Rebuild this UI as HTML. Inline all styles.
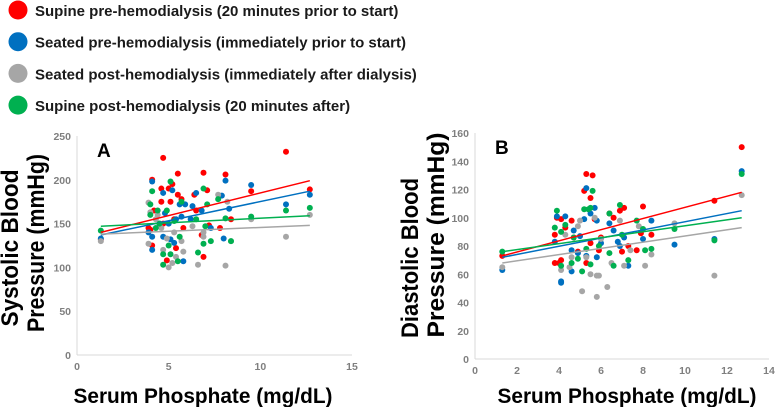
<!DOCTYPE html>
<html><head><meta charset="utf-8"><style>
html,body{margin:0;padding:0;background:#fff;width:777px;height:407px;overflow:hidden}
svg{display:block;font-family:"Liberation Sans",Arial,sans-serif}
</style></head><body>
<svg id="s" width="777" height="407"></svg>
<script>
const seriesNames=["Supine pre-hemodialysis (20 minutes prior to start)","Seated pre-hemodialysis (immediately prior to start)","Seated post-hemodialysis (immediately after dialysis)","Supine post-hemodialysis (20 minutes after)"];
const seriesKeys=["supine-pre","seated-pre","seated-post","supine-post"];
const colors=["#ff0000","#0070c0","#a6a6a6","#00b050"];
const aTicksX=[0,5,10,15];
const aTicksY=[0,50,100,150,200,250];
const bTicksX=[0,2,4,6,8,10,12,14];
const bTicksY=[0,20,40,60,80,100,120,140,160];
const aRed=[[4.7,225],[11.4,232],[4.1,200],[5.5,207],[6.9,208],[8.1,206],[9.5,187],[12.7,189],[5.2,195],[5.0,190],[7.1,188],[4.6,190],[5.5,183],[5.7,178],[6.4,183],[5.1,175],[4.6,175],[4.2,165],[3.9,145],[4.0,143],[4.1,125],[4.9,108],[6.9,112],[5.4,122],[5.8,145],[6.8,137],[7.2,148],[7.8,145],[8.4,155],[4.7,150],[1.3,132],[6.5,165],[5.3,155]];
const aBlue=[[1.3,133],[4.1,198],[8.1,199],[9.5,194],[4.7,185],[5.2,188],[6.5,185],[7.9,182],[11.4,172],[12.7,183],[5.6,172],[5.9,172],[6.3,170],[8.3,167],[4.8,162],[5.4,155],[3.9,140],[4.1,135],[4.1,120],[4.7,135],[5.1,132],[5.3,128],[5.8,107],[6.8,165],[7.3,145],[8.0,133],[4.5,150],[5.0,150],[5.7,158],[6.2,155]];
const aGray=[[1.3,130],[3.9,174],[4.0,163],[3.9,127],[4.3,155],[4.6,145],[4.7,120],[4.9,133],[5.0,100],[5.2,105],[5.4,112],[5.8,118],[6.6,103],[8.1,102],[11.4,135],[12.7,160],[7.7,183],[8.2,175],[6.9,135],[6.9,140],[5.7,130],[6.3,147],[8.4,130],[9.5,155],[5.3,140],[4.4,160]];
const aGreen=[[1.3,142],[4.1,187],[5.1,198],[6.9,190],[7.7,178],[4.0,172],[4.4,165],[4.9,165],[5.7,175],[7.1,172],[8.1,156],[9.5,158],[11.4,165],[12.7,168],[4.0,160],[4.5,150],[5.0,125],[4.7,115],[4.7,103],[5.1,115],[5.5,107],[5.6,135],[6.6,117],[6.9,127],[7.3,130],[8.4,130],[6.5,155],[7.0,147],[5.3,153],[4.3,145]];
const bRed=[[12.7,150],[11.4,112],[5.3,131],[5.6,130],[5.2,119],[5.5,114],[8.0,108],[6.9,105],[7.1,107],[6.6,100],[4.1,99],[3.9,100],[4.3,93],[4.6,98],[5.7,99],[6.4,103],[8.4,88],[7.9,89],[3.8,88],[3.8,68],[4.0,68],[4.1,70],[4.9,76],[5.3,68],[5.5,82],[5.9,77],[7.0,76],[7.3,80],[7.7,77],[1.3,73],[4.7,86],[6.0,86]];
const bBlue=[[12.7,133],[5.3,121],[5.7,107],[5.5,103],[4.3,101],[3.9,101],[8.4,98],[6.4,96],[5.2,99],[4.7,91],[6.6,91],[7.1,86],[8.0,85],[9.5,81],[11.4,85],[1.3,63],[4.1,55],[4.1,54],[4.6,62],[5.3,73],[5.8,72],[6.9,80],[7.3,66],[6.8,83],[3.8,83],[4.6,77],[5.0,87],[5.8,98],[6.0,82],[4.9,75]];
const bGray=[[12.7,116],[1.3,65],[5.1,48],[5.8,44],[6.3,51],[5.8,59],[5.9,59],[5.5,60],[11.4,59],[8.1,66],[7.1,66],[6.5,68],[4.1,63],[4.5,65],[8.4,74],[9.5,96],[7.8,94],[6.9,98],[5.0,98],[4.9,94],[4.6,72],[5.3,72],[6.0,85],[7.4,77],[4.3,88],[5.7,100]];
const bGreen=[[12.7,131],[5.6,119],[6.9,109],[5.2,106],[5.4,106],[3.9,105],[5.5,107],[6.4,103],[4.3,95],[3.8,93],[4.1,90],[7.7,98],[8.0,92],[9.5,92],[11.4,84],[1.3,76],[4.1,66],[4.6,68],[5.1,62],[5.5,67],[6.6,66],[7.3,70],[8.4,78],[8.1,77],[6.4,75],[5.3,78],[4.7,86],[5.9,80],[7.0,88],[4.9,71]];
const aTrends=[[1.3,140,12.7,199],[1.3,137,12.7,187],[1.3,138,12.7,148],[1.3,147,12.7,159]];
const bTrends=[[1.3,73,12.7,118],[1.3,72,12.7,105],[1.3,68,12.7,93],[1.3,76,12.7,100]];

const NS="http://www.w3.org/2000/svg";
const svg=document.getElementById('s');
function mk(t,a,p){const e=document.createElementNS(NS,t);for(const k in a)e.setAttribute(k,a[k]);(p||svg).appendChild(e);return e;}

seriesNames.forEach((n,i)=>{
  const g=mk('g',{});
  
  
  mk('circle',{cx:18,cy:10+31.7*i,r:9.5,fill:colors[i]},g);
  const t=mk('text',{x:35,y:16+31.7*i,'font-size':'15','font-weight':'bold',fill:'#1a1a1a'},g);
  t.textContent=n;
});

function chart(cfg){
  const g=mk('g',{});
  
  
  const sx=v=>cfg.x0+(v-cfg.xmin)/(cfg.xmax-cfg.xmin)*(cfg.x1-cfg.x0);
  const sy=v=>cfg.y0-(v-cfg.ymin)/(cfg.ymax-cfg.ymin)*(cfg.y0-cfg.y1);
  const ax=mk('line',{x1:cfg.x0,y1:cfg.y0,x2:cfg.x1,y2:cfg.y0,stroke:'#d9d9d9','stroke-width':1},g);
  
  const ay=mk('line',{x1:cfg.x0,y1:cfg.y0,x2:cfg.x0,y2:cfg.y1,stroke:'#d9d9d9','stroke-width':1},g);
  
  cfg.tx.forEach(v=>{const t=mk('text',{x:sx(v),y:cfg.y0+15,'font-size':'10.5','font-weight':'bold',fill:'#7f7f7f','text-anchor':'middle'},g);t.textContent=v;
    });
  cfg.ty.forEach(v=>{const t=mk('text',{x:cfg.x0-6,y:sy(v)+4,'font-size':'10.5','font-weight':'bold',fill:'#7f7f7f','text-anchor':'end'},g);t.textContent=v;
    });
  cfg.series.forEach((pts,i)=>{
    const sg=mk('g',{},g);
    
    
    pts.forEach(p=>{const c=mk('circle',{cx:sx(p[0]),cy:sy(p[1]),r:3,fill:colors[i]},sg);
      });
  });
  cfg.trends.forEach((t,i)=>{const l=mk('line',{x1:sx(t[0]),y1:sy(t[1]),x2:sx(t[2]),y2:sy(t[3]),stroke:colors[i],'stroke-width':1.5},g);
    });
  const lab=mk('text',{x:cfg.lx,y:cfg.y1+21,'font-size':'19','font-weight':'bold',fill:'#000'},g);lab.textContent=cfg.label;
  
  const xt=mk('text',{x:cfg.xtc,y:403,'font-size':'21','font-weight':'bold',fill:'#000','text-anchor':'middle',textLength:259,lengthAdjust:'spacingAndGlyphs'},g);xt.textContent='Serum Phosphate  (mg/dL)';
  
  cfg.yt.forEach((s,k)=>{const L=cfg.ytl[k];const t=mk('text',{x:0,y:0,'font-size':'24','font-weight':'bold',fill:'#000','text-anchor':'middle',textLength:L[0],lengthAdjust:'spacingAndGlyphs',transform:`translate(${L[1]},${L[2]}) rotate(-90)`},g);t.textContent=s;
    });
}
chart({name:'chart-a-systolic',x0:77,x1:352,y0:355,y1:136,xmin:0,xmax:15,ymin:0,ymax:250,tx:aTicksX,ty:aTicksY,
  series:[aRed,aBlue,aGray,aGreen],trends:aTrends,label:'A',lx:97,xtc:203,yt:['Systolic Blood','Pressure (mmHg)'],
  ytl:[[157,18,248],[178,44,243]]});
chart({name:'chart-b-diastolic',x0:475,x1:769,y0:359,y1:133,xmin:0,xmax:14,ymin:0,ymax:160,tx:bTicksX,ty:bTicksY,
  series:[bRed,bBlue,bGray,bGreen],trends:bTrends,label:'B',lx:495,xtc:627,yt:['Diastolic Blood','Pressure (mmHg)'],
  ytl:[[160,418,258],[205,444,235]]});
</script>
</body></html>
